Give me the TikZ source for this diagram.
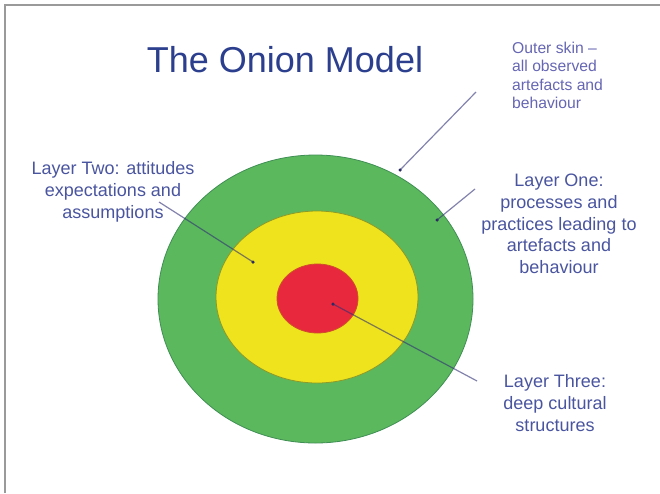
\documentclass[tikz,border=0pt]{standalone}
\usepackage{fontspec}
\setmainfont{Liberation Sans}
\usetikzlibrary{shapes.geometric}
\definecolor{titlec}{HTML}{2B3F8E}
\definecolor{labelc}{HTML}{4A55A0}
\definecolor{skinc}{HTML}{6666B4}
\definecolor{greenc}{HTML}{5CB85C}
\definecolor{greenedge}{HTML}{3F8F55}
\definecolor{yellowc}{HTML}{EEE31C}
\definecolor{yellowedge}{HTML}{8C9A2A}
\definecolor{redc}{HTML}{E8283C}
\definecolor{rededge}{HTML}{D0502A}
\definecolor{linec}{HTML}{303078}
\definecolor{dotc}{HTML}{2A2A60}
\definecolor{framec}{HTML}{9A9A9A}
\tikzset{
  layer/.style={ellipse, inner sep=0pt, line width=0.8pt},
  label18/.style={text=labelc, align=center, inner sep=0pt, font=\fontsize{18}{21.7}\selectfont},
  skinlabel/.style={text=skinc, align=left, inner sep=0pt, font=\fontsize{15.7}{18.4}\selectfont},
  leader/.style={draw=linec, line width=1.2pt, opacity=0.6},
  tipdot/.style={circle, fill=dotc, inner sep=0pt, minimum size=3.5pt},
}
\begin{document}
\begin{tikzpicture}[x=1pt, y=-1pt]
\useasboundingbox (0,0) rectangle (660,493);
\fill[white] (0,0) rectangle (660,493);
\draw[framec, line width=1.5pt] (5,493) -- (5,5) -- (660,5);

% onion layers
\node[layer, draw=greenedge, fill=greenc, minimum width=315pt, minimum height=288pt] (outer) at (315.5,299) {};
\node[layer, draw=yellowedge, fill=yellowc, minimum width=202pt, minimum height=172pt] (middle) at (317,297) {};
\node[layer, draw=rededge, fill=redc, minimum width=81pt, minimum height=69pt] (core) at (317.5,298.5) {};

% title
\node[anchor=base, text=titlec, inner sep=0pt, font=\fontsize{36}{40}\selectfont] (title) at (285,72.7) {The Onion Model};

% labels
\node[skinlabel, anchor=west] (skin) at (512,75.5) {Outer skin --\\all observed\\artefacts and\\behaviour};
\node[label18] (one) at (559,224) {Layer One:\\processes and\\practices leading to\\artefacts and\\behaviour};
\node[label18] (two) at (113,192) {Layer Two: attitudes\\expectations and\\assumptions};
\node[label18] (three) at (555,403) {Layer Three:\\deep cultural\\structures};

% leader end points
\coordinate (skinS) at (476,92);
\coordinate (oneS) at (475,189);
\coordinate (twoS) at (159,202);
\coordinate (threeS) at (477,381);
\node[tipdot] (skinT) at (400,170) {};
\node[tipdot] (oneT) at (437,220) {};
\node[tipdot] (twoT) at (253,262) {};
\node[tipdot] (threeT) at (333,304) {};

\draw[leader] (skinS) -- (skinT.center);
\draw[leader] (oneS) -- (oneT.center);
\draw[leader] (twoS) -- (twoT.center);
\draw[leader] (threeS) -- (threeT.center);
\end{tikzpicture}
\end{document}
